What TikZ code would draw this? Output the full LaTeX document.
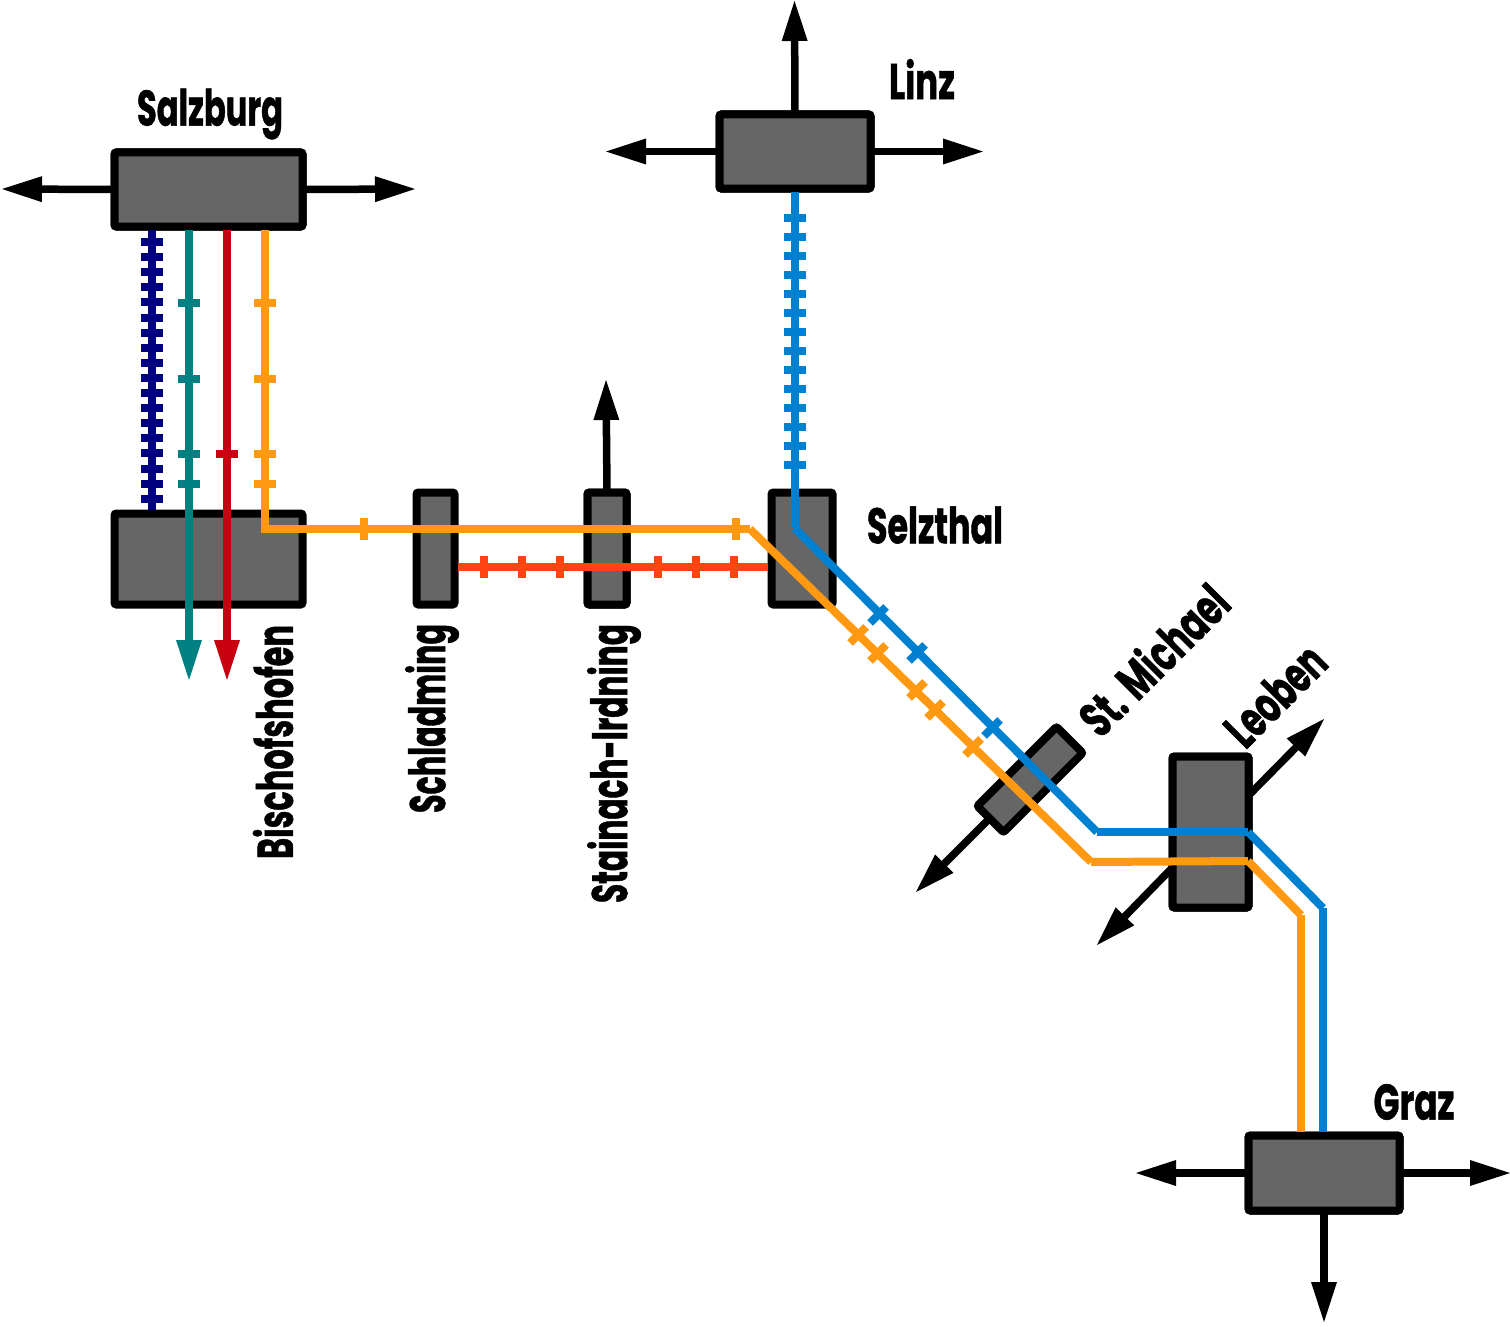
\documentclass[tikz,border=0pt]{standalone}
\usepackage{fontspec}
\setmainfont{Poppins}[BoldFeatures={FakeBold=1.2}]
\usetikzlibrary{arrows.meta}
\definecolor{cgrey}{HTML}{666666}
\definecolor{cnavy}{HTML}{000080}
\definecolor{cteal}{HTML}{008080}
\definecolor{cred}{HTML}{C80010}
\definecolor{corange}{HTML}{FF9911}
\definecolor{cblue}{HTML}{0080D0}
\definecolor{cflame}{HTML}{FF4411}
\newcommand{\lab}[2]{\resizebox{#1pt}{\height}{\fontsize{50pt}{50pt}\selectfont\bfseries #2}}
\tikzset{
 station/.style={draw=black,fill=cgrey,line width=8pt,rounded corners=2pt,inner sep=0pt,outer sep=0pt},
 exitline/.style={draw=black,line width=7.5pt,-{Triangle[length=40pt,width=26pt,line width=0pt]}},
 route/.style={line width=8pt},
 tripline/.style={line width=8pt,-{Triangle[length=40pt,width=26pt,line width=0pt]}},
 tick/.style={line width=8pt},
 citylabel/.style={inner sep=0pt,outer sep=0pt,text=black},
}
\begin{document}
\begin{tikzpicture}[x=1pt,y=-1pt]
\useasboundingbox (0,0) rectangle (1510,1327);
% stations
\node[station,minimum width=188pt,minimum height=74pt] (sal) at (208.5,189.5) {};
\node[station,minimum width=188pt,minimum height=91pt] (bis) at (208.5,559) {};
\node[station,minimum width=38pt,minimum height=112pt] (sch) at (435.5,548.5) {};
\node[station,minimum width=39pt,minimum height=112pt] (sta) at (607,548.5) {};
\node[station,minimum width=61pt,minimum height=112pt] (sel) at (802,548.5) {};
\node[station,minimum width=151pt,minimum height=74pt] (lin) at (795,151.5) {};
\node[station,minimum width=76pt,minimum height=151pt] (leo) at (1210.5,832) {};
\node[station,minimum width=151pt,minimum height=75pt] (gra) at (1324,1173) {};
% exit arrow ends
\coordinate (salW) at (2,189);
\coordinate (salE) at (415,189);
\coordinate (linN) at (794.5,1);
\coordinate (linW) at (606,151.5);
\coordinate (linE) at (983,151.5);
\coordinate (staN) at (606,380);
\coordinate (graW) at (1136,1173);
\coordinate (graE) at (1510,1173);
\coordinate (graS) at (1324,1322);
\coordinate (micS) at (916,892);
\coordinate (leoNE) at (1324,719);
\coordinate (leoSW) at (1097,945);
\coordinate (micStart) at (1000,808);
\coordinate (leoA) at (1249,795);
\coordinate (leoB) at (1172,868);
\path[exitline] (sal.west) -- (salW);
\path[exitline] (sal.east) -- (salE);
\path[exitline] (lin.north) -- (linN);
\path[exitline] (lin.west) -- (linW);
\path[exitline] (lin.east) -- (linE);
\path[exitline] (sta.north) -- (staN);
\path[exitline] (gra.west) -- (graW);
\path[exitline] (gra.east) -- (graE);
\path[exitline] (gra.south) -- (graS);
\path[exitline] (micStart) -- (micS);
\path[exitline] (leoA) -- (leoNE);
\path[exitline] (leoB) -- (leoSW);
% redraw boxes above arrows
\node[station,minimum width=188pt,minimum height=74pt] at (sal) {};
\node[station,minimum width=39pt,minimum height=112pt] at (sta) {};
\node[station,minimum width=151pt,minimum height=74pt] at (lin) {};
\node[station,minimum width=76pt,minimum height=151pt] at (leo) {};
\node[station,minimum width=151pt,minimum height=75pt] at (gra) {};
\node[station,rotate=45,minimum width=112pt,minimum height=37pt] (mic) at (1030,779.5) {};
% routes from Salzburg
\coordinate (n0) at (152,230); \coordinate (n1) at (152,510);
\draw[route,cnavy] (n0) -- (n1);
\foreach \y in {242,257.1,...,500}{\draw[tick,cnavy] (141,\y) -- (163,\y);}
\coordinate (t0) at (189,230); \coordinate (t1) at (189,680);
\draw[tripline,cteal] (t0) -- (t1);
\foreach \y in {303,378.5,454,484}{\draw[tick,cteal] (178,\y) -- (200,\y);}
\coordinate (r0) at (227,230); \coordinate (r1) at (227,680);
\draw[tripline,cred] (r0) -- (r1);
\draw[tick,cred] (216,454) -- (238,454);
% flame line
\coordinate (f0) at (458,567); \coordinate (f1) at (768,567);
\draw[route,cflame] (f0) -- (f1);
\foreach \x in {484,522,560,658,696,734}{\draw[tick,cflame] (\x,556) -- (\x,578);}
% orange line
\coordinate (o0) at (265,230);
\coordinate (o1) at (265,529);
\coordinate (o2) at (750,529);
\coordinate (o3) at (1091,862);
\coordinate (o4) at (1248,861);
\coordinate (o5) at (1301,915);
\coordinate (o6) at (1301,1132);
\draw[route,corange] (o0) -- (o1) -- (o2);
\draw[route,corange] (o2) -- (o3);
\draw[route,corange] (o3) -- (o4);
\draw[route,corange] (o4) -- (o5);
\draw[route,corange] (o5) -- (o6);
\foreach \y in {303,378.5,454,484}{\draw[tick,corange] (254,\y) -- (276,\y);}
\foreach \x in {364,736}{\draw[tick,corange] (\x,518) -- (\x,540);}
\foreach \x/\y in {858/635,878/653,917/690,935/710,973/747}{\draw[tick,corange] (\x-8,\y+8) -- (\x+8,\y-8);}
% blue line
\coordinate (b0) at (794.5,192);
\coordinate (b1) at (794.5,528);
\coordinate (b2) at (1097,832);
\coordinate (b3) at (1248,832);
\coordinate (b4) at (1323,908);
\coordinate (b5) at (1323,1132);
\draw[route,cblue] (b0) -- (b1);
\draw[route,cblue] (b1) -- (b2);
\draw[route,cblue] (b2) -- (b3);
\draw[route,cblue] (b3) -- (b4);
\draw[route,cblue] (b4) -- (b5);
\foreach \y in {218,237,...,466}{\draw[tick,cblue] (783.5,\y) -- (805.5,\y);}
\foreach \x/\y in {878/615,917/653,992/728}{\draw[tick,cblue] (\x-8,\y+8) -- (\x+8,\y-8);}
% labels
\node[citylabel] (lsal) at (210,114) {\lab{146}{Salzburg}};
\node[citylabel] (llin) at (922,79) {\lab{66}{Linz}};
\node[citylabel] (lsel) at (935,525) {\lab{136}{Selzthal}};
\node[citylabel] (lgra) at (1414,1102) {\lab{81}{Graz}};
\node[citylabel,rotate=90] (lbis) at (273,742) {\lab{234}{Bischofshofen}};
\node[citylabel,rotate=90] (lsch) at (432,718.5) {\lab{189}{Schladming}};
\node[citylabel,rotate=90] (lsta) at (614,763.5) {\lab{279}{Stainach-Irdning}};
\node[citylabel,rotate=45] (lmic) at (1153,659) {\lab{188}{St. Michael}};
\node[citylabel,rotate=45] (lleo) at (1275,695) {\lab{120}{Leoben}};
\end{tikzpicture}
\end{document}
